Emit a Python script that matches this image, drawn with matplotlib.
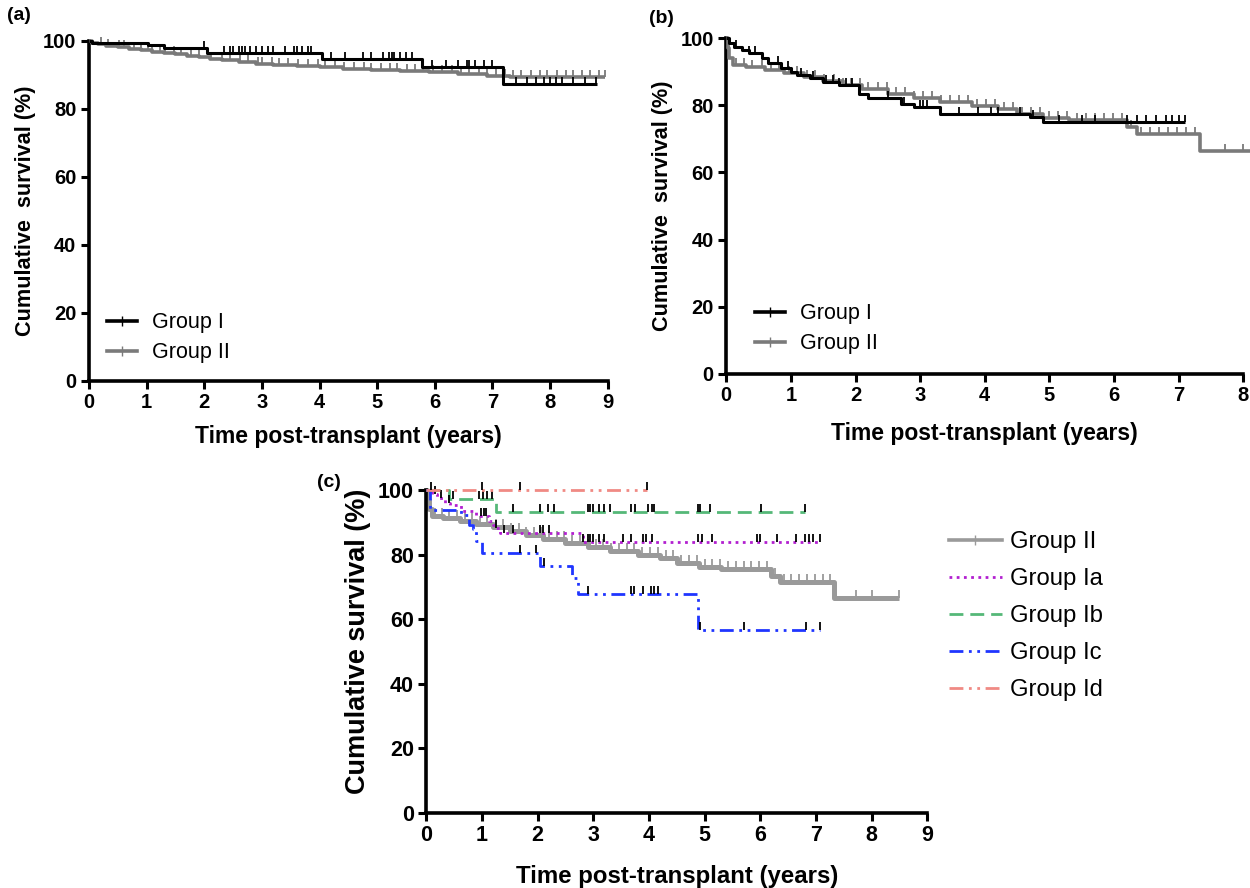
import numpy as np
import matplotlib
matplotlib.use("Agg")
import matplotlib.pyplot as plt
from matplotlib.lines import Line2D

plt.rcParams['font.family'] = ['Liberation Sans', 'DejaVu Sans']

# ---------------- data ----------------
# Panel (a)
a_g1_t = [0, 0.05, 1.03, 1.3, 2.05, 4.04, 5.77, 7.18, 8.82]
a_g1_s = [100, 99.4, 98.7, 97.9, 96.3, 94.8, 92.3, 87.2, 87.2]
a_g1_c = [2.0, 2.35, 2.45, 2.5, 2.6, 2.65, 2.7, 2.8, 2.9, 3.0, 3.1, 3.2, 3.4, 3.55, 3.6, 3.7,
          3.8, 3.85, 4.2, 4.45, 4.75, 4.9, 5.1, 5.2, 5.25, 5.3, 5.4, 5.5, 5.6, 5.95, 6.2, 6.4,
          6.55, 6.6, 6.7, 6.85, 7.0, 7.4, 7.6, 7.75, 7.9, 8.0, 8.1, 8.2, 8.4, 8.6, 8.8]
a_g2_t = [0, 0.05, 0.15, 0.3, 0.5, 0.7, 0.9, 1.1, 1.3, 1.5, 1.7, 1.9, 2.1, 2.3, 2.6, 2.9,
          3.2, 3.6, 4.0, 4.4, 4.9, 5.4, 5.9, 6.4, 6.9, 7.3, 8.95]
a_g2_s = [100, 99.5, 99.0, 98.6, 98.2, 97.7, 97.2, 96.8, 96.4, 96.0, 95.6, 95.2, 94.7, 94.3,
          93.8, 93.3, 93.0, 92.6, 92.2, 91.8, 91.4, 91.1, 90.7, 90.2, 89.8, 89.5, 89.5]
a_g2_c = [0.2, 0.33, 0.52, 0.6, 0.78, 0.9, 1.02, 1.1, 1.23, 1.31, 1.47, 1.6, 1.77, 1.9, 2.12,
          2.3, 2.44, 2.62, 2.75, 2.93, 3.0, 3.17, 3.3, 3.46, 3.62, 3.8, 3.97, 4.1, 4.27, 4.42,
          4.6, 4.77, 4.9, 5.06, 5.22, 5.35, 5.52, 5.66, 5.8, 5.96, 6.12, 6.3, 6.46, 6.6, 6.77,
          6.9, 7.06, 7.21, 7.36, 7.5, 7.66, 7.82, 7.95, 8.12, 8.27, 8.4, 8.56, 8.7, 8.85, 8.95]

# Panel (b)
b_g1_t = [0, 0.04, 0.12, 0.25, 0.35, 0.55, 0.65, 0.85, 1.0, 1.1, 1.3, 1.5, 1.75, 2.05, 2.2,
          2.7, 2.9, 3.3, 4.7, 4.9, 7.1]
b_g1_s = [100, 98.5, 97.5, 96.5, 95.5, 94.0, 92.5, 91.2, 90.0, 89.0, 88.0, 87.0, 86.0, 83.5,
          82.3, 80.5, 79.5, 77.4, 76.5, 75.0, 75.0]
b_g1_c = [0.15, 0.35, 0.45, 0.8, 0.95, 1.15, 1.35, 1.55, 1.65, 1.75, 1.85, 1.95, 2.5, 2.75,
          3.0, 3.05, 3.1, 3.6, 3.9, 4.1, 4.2, 4.55, 4.75, 5.15, 5.5, 5.7, 6.2, 6.35, 6.5,
          6.65, 6.8, 6.9, 7.0, 7.1]

# Group II (panels b and c)
g2_t = [0, 0.02, 0.05, 0.1, 0.3, 0.6, 0.9, 1.2, 1.5, 1.8, 2.1, 2.5, 2.9, 3.3, 3.8, 4.2,
        4.5, 4.9, 5.3, 6.2, 6.35, 7.33, 8.5]
g2_s = [100, 97.0, 94.0, 92.0, 91.3, 90.5, 89.5, 88.5, 87.3, 86.0, 84.8, 83.5, 82.2, 81.0,
        79.8, 78.8, 77.3, 76.3, 75.5, 73.5, 71.5, 66.5, 66.5]
g2_c = [0.15, 0.28, 0.4, 0.55, 0.7, 0.82, 0.97, 1.1, 1.25, 1.38, 1.52, 1.66, 1.8, 1.93, 2.07,
        2.2, 2.35, 2.48, 2.62, 2.77, 2.9, 3.05, 3.18, 3.32, 3.46, 3.6, 3.74, 3.88, 4.02,
        4.16, 4.3, 4.44, 4.58, 4.72, 4.86, 5.0, 5.14, 5.28, 5.42, 5.56, 5.7, 5.84, 5.98,
        6.12, 6.26, 6.42, 6.56, 6.7, 6.84, 6.98, 7.12, 7.26, 7.72, 8.0, 8.5]

# Panel (c) subgroups of Group I
ia_t = [0, 0.1, 0.2, 0.34, 0.42, 0.62, 0.9, 1.12, 1.2, 1.26, 1.32, 2.82, 7.08]
ia_s = [100, 98.8, 97.6, 96.0, 95.5, 93.5, 92.0, 90.4, 89.3, 88.1, 86.8, 83.9, 83.9]
ia_c = [0.16, 0.27, 0.41, 0.98, 1.03, 1.08, 1.26, 1.4, 1.55, 2.04, 2.1, 2.2, 2.82, 2.9,
        2.95, 3.0, 3.1, 3.2, 3.53, 3.67, 3.9, 3.95, 4.06, 4.88, 4.95, 5.13, 5.94, 6.0, 6.3,
        6.65, 6.8, 6.87, 6.94, 7.08]
ib_t = [0, 0.41, 1.26, 6.8]
ib_s = [100, 97.1, 93.3, 93.3]
ib_c = [0.48, 0.95, 1.02, 1.1, 1.19, 1.55, 2.04, 2.18, 2.29, 2.9, 2.95, 3.0, 3.1, 3.2, 3.3,
        3.67, 3.75, 3.99, 4.05, 4.1, 4.88, 4.92, 5.09, 6.01, 6.8]
ic_t = [0, 0.06, 0.62, 0.77, 0.84, 0.9, 1.01, 2.04, 2.61, 2.72, 4.88, 7.08]
ic_s = [100, 93.8, 92.4, 89.3, 87.8, 84.2, 80.5, 76.4, 72.8, 67.8, 56.5, 56.5]
ic_c = [1.69, 1.97, 2.11, 2.9, 3.67, 3.73, 3.89, 4.03, 4.1, 4.17, 4.92, 5.7, 6.83, 7.08]
id_t = [0, 3.96]
id_s = [100, 100]
id_c = [0.09, 1.01, 1.69, 3.96]

yticks = [0, 20, 40, 60, 80, 100]

# ---------------- helpers ----------------
def surv_at(t, s, c):
    t = np.asarray(t); s = np.asarray(s)
    idx = np.searchsorted(t, np.asarray(c), side='right') - 1
    return s[np.clip(idx, 0, len(s) - 1)]

def km(ax, t, s, c, color, lw, ls='-', tick_color=None, ms=6, label=None, z=3):
    ax.step(t, s, where='post', color=color, lw=lw, linestyle=ls, clip_on=False,
            zorder=z, label=label, solid_capstyle='butt')
    tc = color if tick_color is None else tick_color
    ax.plot(c, surv_at(t, s, c), linestyle='none', marker=2, ms=ms, mew=1.3,
            color=tc, clip_on=False, zorder=z + 0.5)

def style(ax, xmax, fs_tick, fs_xlabel, fs_ylabel, ylab, xpad, ypad):
    for sp in ['top', 'right']:
        ax.spines[sp].set_visible(False)
    for sp in ['left', 'bottom']:
        ax.spines[sp].set_linewidth(2.6)
    ax.set_xlim(0, xmax)
    ax.set_ylim(0, 100)
    ax.set_xticks(range(0, xmax + 1))
    ax.set_yticks(yticks)
    ax.tick_params(width=2.2, length=6, labelsize=fs_tick, pad=3)
    for lab in ax.get_xticklabels() + ax.get_yticklabels():
        lab.set_fontweight('bold')
    ax.set_xlabel('Time post-transplant (years)', fontsize=fs_xlabel, fontweight='bold',
                  labelpad=xpad)
    ax.set_ylabel(ylab, fontsize=fs_ylabel, fontweight='bold', labelpad=ypad)

fig = plt.figure(figsize=(12.5, 8.88), dpi=100)

BLACK = '#000000'
GRAY = '#7a7a7a'
GRAYC = '#9a9a9a'

leg_kw = dict(frameon=False, fontsize=15.5, handlelength=1.4, labelspacing=0.42,
              handletextpad=0.7, borderaxespad=0.3, loc='lower left')

# ---- (a)
axA = fig.add_axes([0.0712, 0.571, 0.415, 0.383])
km(axA, a_g1_t, a_g1_s, a_g1_c, BLACK, 2.2, ms=5, z=4)
km(axA, a_g2_t, a_g2_s, a_g2_c, GRAY, 2.6, ms=5, z=3)
style(axA, 9, 14.5, 16.5, 15.6, 'Cumulative  survival (%)', 9, 5)
hA = [Line2D([], [], color=BLACK, lw=2.6, marker='|', ms=7, mew=1),
      Line2D([], [], color=GRAY, lw=2.6, marker='|', ms=7, mew=1)]
axA.legend(hA, ['Group I', 'Group II'], bbox_to_anchor=(0.005, 0.008), **leg_kw)

# ---- (b)
axB = fig.add_axes([0.581, 0.579, 0.4136, 0.378])
km(axB, b_g1_t, b_g1_s, b_g1_c, BLACK, 2.2, ms=5, z=4)
km(axB, g2_t, g2_s, g2_c, GRAY, 2.6, ms=5, z=3)
style(axB, 8, 14.5, 16.5, 15.6, 'Cumulative  survival (%)', 12, 5)
axB.legend(hA, ['Group I', 'Group II'], bbox_to_anchor=(0.026, 0.013), **leg_kw)

# ---- (c)
axC = fig.add_axes([0.341, 0.0845, 0.4008, 0.3637])
km(axC, g2_t, g2_s, g2_c, GRAYC, 3.6, tick_color=GRAYC, z=2)
km(axC, ia_t, ia_s, ia_c, '#b21fd0', 2.0, ls=(0, (1, 1.6)), tick_color=BLACK, ms=6, z=4)
km(axC, ib_t, ib_s, ib_c, '#55b878', 2.0, ls=(0, (5, 2.5)), tick_color=BLACK, ms=6, z=4)
km(axC, ic_t, ic_s, ic_c, '#1f35ff', 2.0, ls=(0, (5, 2, 1, 2, 1, 2)), tick_color=BLACK, ms=6, z=5)
km(axC, id_t, id_s, id_c, '#f08a84', 2.0, ls=(0, (5, 2, 1, 2, 1, 2)), tick_color=BLACK, ms=6, z=5)
style(axC, 9, 15.5, 17.3, 19.5, 'Cumulative survival (%)', 13, 4)
axC.yaxis.set_label_coords(-0.11, 0.53)

hC = [Line2D([], [], color=GRAYC, lw=2.6, marker='|', ms=7, mew=1),
      Line2D([], [], color='#b21fd0', lw=2.0, ls=(0, (1, 1.6))),
      Line2D([], [], color='#55b878', lw=2.0, ls=(0, (5, 2.5))),
      Line2D([], [], color='#1f35ff', lw=2.0, ls=(0, (5, 2, 1, 2, 1, 2))),
      Line2D([], [], color='#f08a84', lw=2.0, ls=(0, (5, 2, 1, 2, 1, 2)))]
fig.legend(hC, ['Group II', 'Group Ia', 'Group Ib', 'Group Ic', 'Group Id'],
           loc='upper left', bbox_to_anchor=(0.742, 0.426), frameon=False, fontsize=17.2,
           handlelength=2.2, labelspacing=0.63, handletextpad=0.35)

# panel letters
fig.text(0.006, 0.982, '(a)', fontsize=14, fontweight='bold', va='center')
fig.text(0.519, 0.979, '(b)', fontsize=14, fontweight='bold', va='center')
fig.text(0.254, 0.457, '(c)', fontsize=14, fontweight='bold', va='center')

fig.savefig('out.png', dpi=100)
